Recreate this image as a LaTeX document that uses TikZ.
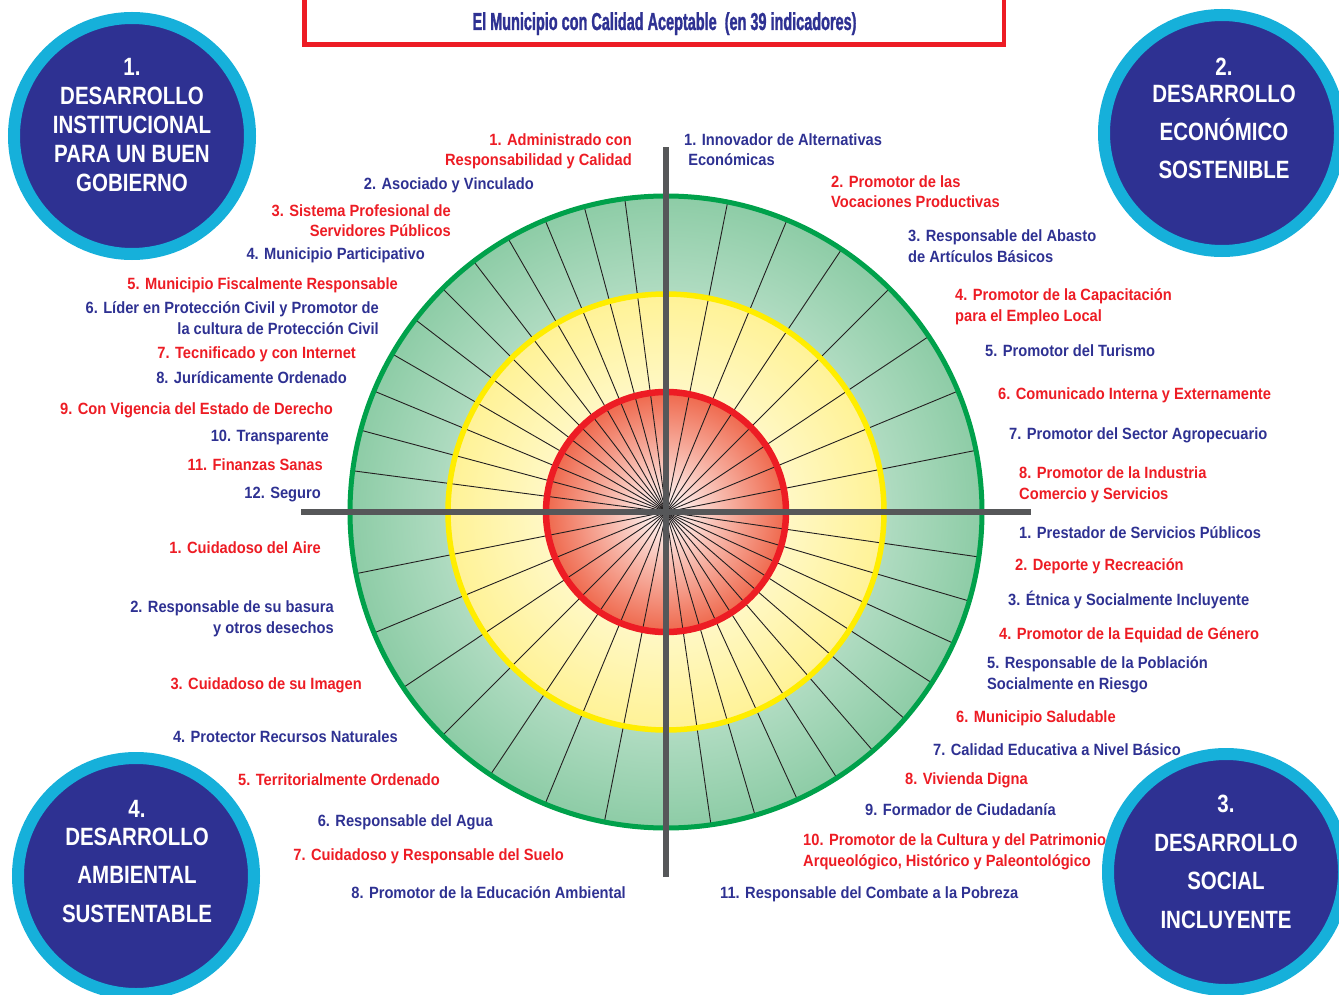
\documentclass[tikz,border=0pt]{standalone}
\usepackage{fontspec}
\setmainfont{Liberation Sans}
\newfontfamily\labelFont[FakeStretch=0.9]{Liberation Sans}
\newfontfamily\pillarFont[FakeStretch=0.82]{Liberation Sans}
\newfontfamily\titleFont[FakeStretch=0.59,FakeBold=1.2]{Liberation Sans}
\tikzset{>=latex}

\definecolor{navyText}{RGB}{46,49,146}
\definecolor{redText}{RGB}{237,28,36}
\definecolor{ringGreen}{RGB}{0,161,75}
\definecolor{ringYellow}{RGB}{255,237,0}
\definecolor{ringRed}{RGB}{237,28,36}
\definecolor{greenOuter}{RGB}{141,204,166}
\definecolor{yellowOuter}{RGB}{255,242,150}
\definecolor{redOuter}{RGB}{239,104,76}
\definecolor{axisGray}{RGB}{86,87,89}
\definecolor{spokeGray}{RGB}{35,31,32}
\definecolor{pillarNavy}{RGB}{46,49,146}
\definecolor{pillarCyan}{RGB}{22,176,218}

\tikzset{
  indicator/.style={font=\labelFont\bfseries\fontsize{16.3}{20.8}\selectfont, inner sep=0pt},
  pillar/.style={circle, fill=pillarNavy, draw=pillarCyan, line width=12pt, minimum size=236pt, inner sep=0pt},
  pillarText/.style={text=white, font=\pillarFont\bfseries\fontsize{25}{29}\selectfont, align=center, inner sep=0pt},
  spoke/.style={line width=0.9pt, spokeGray},
  axisLine/.style={line width=5.7pt, axisGray},
}

\begin{document}
\begin{tikzpicture}[x=1pt,y=-1pt]
  % limits
  \useasboundingbox (0,0) rectangle (1339,995);
  \def\rg{316pt} % green ring
  \def\ry{218pt} % yellow ring
  \def\rr{120pt} % red ring
  \def\ax{365pt} % half length of the axes
  \coordinate (ctr) at (666,512);

  % help functions

        % Indicators left of the wheel (right aligned, y = baseline of last line)
  \def\indLeft(#1,#2,#3,#4,#5){\node[indicator,text=#4,anchor=base east,align=right] (#1) at (#2,#3) {#5};}
        % Indicators right of the wheel (left aligned, y = baseline of last line)
  \def\indRight(#1,#2,#3,#4,#5){\node[indicator,text=#4,anchor=base west,align=left] (#1) at (#2,#3) {#5};}

  % title
  \node[draw=ringRed, line width=4.5pt, minimum width=699.5pt, minimum height=60pt, inner sep=0pt] (titleFrame) at (654.25,14.5) {};
  \node[text=navyText, font=\titleFont\bfseries\fontsize{24.5}{28}\selectfont, anchor=base, inner sep=0pt] (subtitle) at (664.5,30) {El Municipio con Calidad Aceptable~ (en 39 indicadores)};

  % wheel
  \shade[inner color=white, outer color=greenOuter] (ctr) circle (\rg);
  \shade[inner color=white, outer color=yellowOuter] (ctr) circle (\ry);
  \shade[inner color=white, outer color=redOuter] (ctr) circle (\rr);

  % spokes
  \foreach \n/\start in {12/90, 8/0, 11/-90, 8/180}{
    \pgfmathsetmacro\step{90/\n}
    \pgfmathtruncatemacro\last{\n-1}
    \foreach \k in {1,...,\last}
      \draw[spoke] (ctr) -- ++(\start+\k*\step:\rg);
  }

  % rings
  \draw[line width=5pt, ringGreen] (ctr) circle (\rg);
  \draw[line width=5.5pt, ringYellow] (ctr) circle (\ry);
  \draw[line width=6.5pt, ringRed] (ctr) circle (\rr);

  % axes
  \draw[axisLine] (ctr) ++(-\ax,0) -- ++(2*\ax,0);
  \draw[axisLine] (ctr) ++(0,-\ax) -- ++(0,2*\ax);

  % pillars
  \node[pillar] (pillarOne) at (132,136) {};
  \node[pillarText, anchor=base] (pillarOneText) at (132,192) {1.\\DESARROLLO\\INSTITUCIONAL\\PARA UN BUEN\\GOBIERNO};
  \node[pillar] (pillarTwo) at (1222,133) {};
  \node[pillarText, anchor=base, font=\pillarFont\bfseries\fontsize{25}{38}\selectfont] (pillarTwoText) at (1224,179) {2.\\[-10pt]DESARROLLO\\ECONÓMICO\\SOSTENIBLE};
  \node[pillar] (pillarThree) at (1226,872) {};
  \node[pillarText, anchor=base, font=\pillarFont\bfseries\fontsize{25}{38.5}\selectfont] (pillarThreeText) at (1226,928) {3.\\DESARROLLO\\SOCIAL\\INCLUYENTE};
  \node[pillar] (pillarFour) at (136,876) {};
  \node[pillarText, anchor=base, font=\pillarFont\bfseries\fontsize{25}{38.5}\selectfont] (pillarFourText) at (137,922) {4.\\[-11pt]DESARROLLO\\AMBIENTAL\\SUSTENTABLE};

  % INDICATORS
    %Institutional
        \indLeft(inst1,632,166,redText,{1. Administrado con\\Responsabilidad y Calidad})
        \indLeft(inst2,534,190,navyText,{2. Asociado y Vinculado})
        \indLeft(inst3,451,237,redText,{3. Sistema Profesional de\\Servidores Públicos})
        \indLeft(inst4,425,260,navyText,{4. Municipio Participativo})
        \indLeft(inst5,398,290,redText,{5. Municipio Fiscalmente Responsable})
        \indLeft(inst6,379,334,navyText,{6. Líder en Protección Civil y Promotor de\\la cultura de Protección Civil})
        \indLeft(inst7,356,358,redText,{7. Tecnificado y con Internet})
        \indLeft(inst8,347,383,navyText,{8. Jurídicamente Ordenado})
        \indLeft(inst9,333,414,redText,{9. Con Vigencia del Estado de Derecho})
        \indLeft(inst10,329,441,navyText,{10. Transparente})
        \indLeft(inst11,323,470,redText,{11. Finanzas Sanas})
        \indLeft(inst12,321,498,navyText,{12. Seguro})
    %Economic
        \indRight(econ1,684,166,navyText,{1. Innovador de Alternativas\\~Económicas})
        \indRight(econ2,831,208,redText,{2. Promotor de las\\Vocaciones Productivas})
        \indRight(econ3,908,262,navyText,{3. Responsable del Abasto\\de Artículos Básicos})
        \indRight(econ4,955,321,redText,{4. Promotor de la Capacitación\\para el Empleo Local})
        \indRight(econ5,985,356,navyText,{5. Promotor del Turismo})
        \indRight(econ6,998,399,redText,{6. Comunicado Interna y Externamente})
        \indRight(econ7,1009,439,navyText,{7. Promotor del Sector Agropecuario})
        \indRight(econ8,1019,499,redText,{8. Promotor de la Industria\\Comercio y Servicios})
    %Social
        \indRight(soc1,1019,538,navyText,{1. Prestador de Servicios Públicos})
        \indRight(soc2,1015,570,redText,{2. Deporte y Recreación})
        \indRight(soc3,1008,605,navyText,{3. Étnica y Socialmente Incluyente})
        \indRight(soc4,999,639,redText,{4. Promotor de la Equidad de Género})
        \indRight(soc5,987,689,navyText,{5. Responsable de la Población\\Socialmente en Riesgo})
        \indRight(soc6,956,722,redText,{6. Municipio Saludable})
        \indRight(soc7,933,755,navyText,{7. Calidad Educativa a Nivel Básico})
        \indRight(soc8,905,784,redText,{8. Vivienda Digna})
        \indRight(soc9,865,815,navyText,{9. Formador de Ciudadanía})
        \indRight(soc10,803,866,redText,{10. Promotor de la Cultura y del Patrimonio\\Arqueológico, Histórico y Paleontológico})
        \indRight(soc11,720,898,navyText,{11. Responsable del Combate a la Pobreza})
    %Environmental
        \indLeft(amb1,321,553,redText,{1. Cuidadoso del Aire})
        \indLeft(amb2,334,633,navyText,{2. Responsable de su basura\\y otros desechos})
        \indLeft(amb3,362,689,redText,{3. Cuidadoso de su Imagen})
        \indLeft(amb4,398,742,navyText,{4. Protector Recursos Naturales})
        \indLeft(amb5,440,785,redText,{5. Territorialmente Ordenado})
        \indLeft(amb6,493,826,navyText,{6. Responsable del Agua})
        \indLeft(amb7,564,860,redText,{7. Cuidadoso y Responsable del Suelo})
        \indLeft(amb8,626,898,navyText,{8. Promotor de la Educación Ambiental})

\end{tikzpicture}
\end{document}
